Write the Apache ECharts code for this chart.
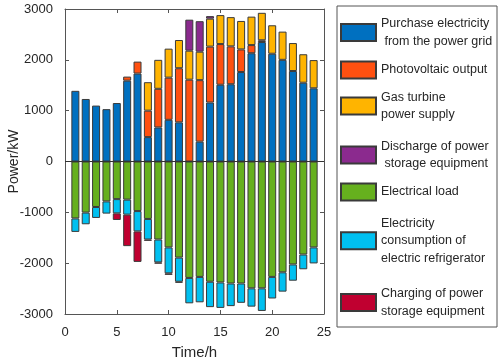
<!DOCTYPE html>
<html>
<head>
<meta charset="utf-8">
<script src="https://cdn.jsdelivr.net/npm/echarts@6.0.0/dist/echarts.min.js"></script>
<style>
  html, body { margin: 0; padding: 0; background: #fff; }
  #main { width: 498px; height: 361px; }
</style>
</head>
<body>
<div id="main"></div>
<script>
// time axis slots 0..25 (bars sit on 1..24)
var timeTicks = ['0','1','2','3','4','5','6','7','8','9','10','11','12','13','14','15','16','17','18','19','20','21','22','23','24','25'];
var hours = [1,2,3,4,5,6,7,8,9,10,11,12,13,14,15,16,17,18,19,20,21,22,23,24];

// supply side (kW)
var gridPower      = [1390,1230,1100,1030,1150,1590,1730,480,670,820,770,0,390,1160,1510,1520,1760,2130,2350,2120,2000,1780,1550,1440];
var pvOutput       = [0,0,0,0,0,80,235,520,760,830,1065,1610,1210,1100,800,745,445,160,35,0,0,0,0,0];
var gasTurbine     = [0,0,0,0,0,0,0,560,570,570,555,570,560,550,570,575,560,560,540,560,555,550,560,555];
var storageOut     = [0,0,0,0,0,0,0,0,0,0,0,610,600,50,0,0,0,0,0,0,0,0,0,0];

// demand side (kW)
var elecLoad       = [-1120,-1005,-895,-785,-740,-750,-975,-1130,-1535,-1690,-1890,-2290,-2270,-2365,-2380,-2400,-2400,-2495,-2495,-2270,-2180,-2025,-1830,-1690];
var refrigerator   = [-265,-230,-215,-240,-280,-295,-400,-405,-450,-510,-475,-500,-500,-500,-500,-445,-380,-360,-445,-425,-380,-320,-290,-315];
var storageIn      = [0,0,0,0,-130,-620,-600,-25,-25,-30,-20,0,0,0,0,0,0,0,0,0,0,0,0,0];

var seriesNames = [
  'Purchase electricity from the power grid',
  'Photovoltaic output',
  'Gas turbine power supply',
  'Discharge of power storage equipment',
  'Electrical load',
  'Electricity consumption of electric refrigerator',
  'Charging of power storage equipment'
];
var legendLabels = [
  'Purchase electricity\n from the power grid',
  'Photovoltaic output',
  'Gas turbine\npower supply',
  'Discharge of power\n storage equipment',
  'Electrical load',
  'Electricity\nconsumption of\nelectric refrigerator',
  'Charging of power\nstorage equipment'
];
var seriesData = [gridPower, pvOutput, gasTurbine, storageOut, elecLoad, refrigerator, storageIn];
var colors = ['#0070C0', '#FF5010', '#FFB400', '#8B2A8E', '#66B01E', '#00C0F0', '#C00030'];

var legendTops = [15, 60.5, 88.5, 137.5, 182.5, 214.5, 285];

var font = 'Liberation Sans, Arial, Helvetica, sans-serif';
var axisColor = '#555';

var chart = echarts.init(document.getElementById('main'));

var series = seriesNames.map(function (name, k) {
  // one slot per tick category, empty at 0 and 25
  var vals = timeTicks.map(function (t) {
    var i = hours.indexOf(+t);
    if (i < 0) return '-';
    var v = seriesData[k][i];
    return v === 0 ? '-' : v;
  });
  var s = {
    name: name,
    type: 'bar',
    stack: 'balance',
    barWidth: 8,
    itemStyle: { color: colors[k], borderColor: '#3a3a3a', borderWidth: 1 },
    emphasis: { disabled: true },
    data: vals
  };
  if (k === 0) {
    s.markLine = {
      silent: true,
      symbol: 'none',
      label: { show: false },
      lineStyle: { color: '#333', width: 1, type: 'solid' },
      data: [{ yAxis: 0 }]
    };
  }
  return s;
});

var legends = seriesNames.map(function (name, k) {
  return {
    data: [name],
    orient: 'vertical',
    left: 340,
    top: legendTops[k],
    padding: 0,
    itemWidth: 35,
    itemHeight: 17,
    icon: 'rect',
    selectedMode: false,
    formatter: function () { return legendLabels[k]; },
    textStyle: { fontFamily: font, fontSize: 12.5, color: '#262626', lineHeight: 17.5 }
  };
});

var option = {
  animation: false,
  backgroundColor: '#fff',
  textStyle: { fontFamily: font },
  grid: { left: 65, right: 174, top: 9, bottom: 47, containLabel: false, outerBoundsMode: 'none' },
  legend: legends,
  graphic: [{
    type: 'rect',
    shape: { x: 337, y: 6, width: 160, height: 321 },
    style: { fill: 'none', stroke: axisColor, lineWidth: 1 },
    silent: true
  }],
  xAxis: [{
    type: 'category',
    data: timeTicks,
    boundaryGap: false,
    name: 'Time/h',
    nameLocation: 'middle',
    nameGap: 31,
    nameMoveOverlap: false,
    nameTextStyle: { fontFamily: font, fontSize: 15, color: '#262626' },
    axisLine: { onZero: false, lineStyle: { color: axisColor } },
    axisTick: { inside: true, length: 4, interval: 4, lineStyle: { color: axisColor } },
    axisLabel: { fontFamily: font, fontSize: 13, color: '#262626', margin: 12, interval: 4 },
    splitLine: { show: false }
  }, {
    type: 'category',
    data: timeTicks,
    boundaryGap: false,
    position: 'top',
    axisLine: { onZero: false, lineStyle: { color: axisColor } },
    axisTick: { inside: true, length: 4, interval: 4, lineStyle: { color: axisColor } },
    axisLabel: { show: false },
    splitLine: { show: false }
  }],
  yAxis: [{
    type: 'value',
    min: -3000, max: 3000, interval: 1000,
    name: 'Power/kW',
    nameLocation: 'middle',
    nameGap: 44,
    nameMoveOverlap: false,
    nameRotate: 90,
    nameTextStyle: { fontFamily: font, fontSize: 14, color: '#262626' },
    axisLine: { show: true, onZero: false, lineStyle: { color: axisColor } },
    axisTick: { show: true, inside: true, length: 4, lineStyle: { color: axisColor } },
    axisLabel: {
      fontFamily: font, fontSize: 13, color: '#262626', margin: 12,
      formatter: function (v) { return String(v); }
    },
    splitLine: { show: false }
  }, {
    type: 'value',
    position: 'right',
    min: -3000, max: 3000, interval: 1000,
    axisLine: { show: true, onZero: false, lineStyle: { color: axisColor } },
    axisTick: { show: true, inside: true, length: 4, lineStyle: { color: axisColor } },
    axisLabel: { show: false },
    splitLine: { show: false }
  }],
  series: series
};

chart.setOption(option);
</script>
</body>
</html>
